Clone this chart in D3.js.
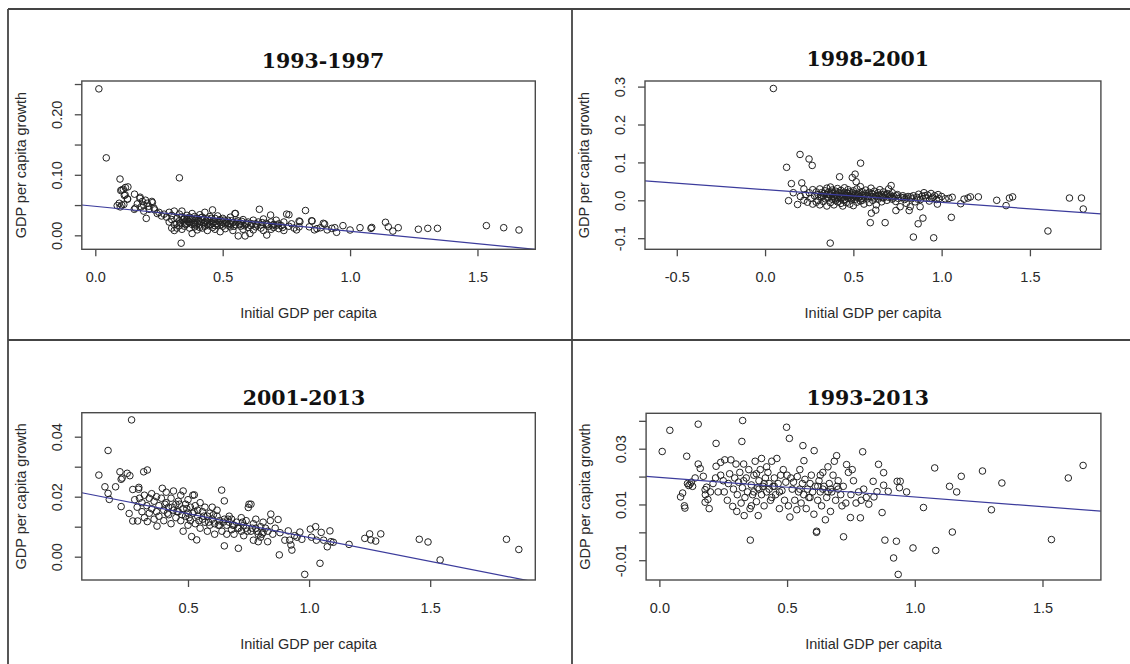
<!DOCTYPE html>
<html>
<head>
<meta charset="utf-8">
<script src="https://cdn.jsdelivr.net/npm/d3@7"></script>
<style>
  html, body { margin: 0; padding: 0; background: #fff; }
  svg { display: block; }
</style>
</head>
<body>
<svg id="chart" width="1130" height="664"></svg>
<script>
// ---------------- DATA ----------------
const titles = ["1993-1997", "1998-2001", "2001-2013", "1993-2013"];
const xAxisTitle = "Initial GDP per capita";
const yAxisTitle = "GDP per capita growth";

// [initial GDP per capita, GDP per capita growth]
const pts9397 = [
[0.014,0.242],[0.043,0.128],[0.097,0.093],[0.33,0.095],[0.337,-0.013],
[0.104,0.075],[0.118,0.079],[0.128,0.080],[0.114,0.066],[0.126,0.060],[0.110,0.076],[0.100,0.074],[0.117,0.067],[0.127,0.060],
[0.086,0.049],[0.094,0.053],[0.104,0.050],[0.098,0.047],[0.112,0.051],
[0.154,0.068],[0.175,0.061],[0.185,0.056],[0.197,0.058],[0.190,0.050],[0.204,0.053],[0.222,0.056],[0.157,0.045],[0.153,0.043],[0.200,0.028],[0.211,0.043],[0.233,0.042],[0.243,0.036],[0.224,0.054],[0.18,0.047],[0.165,0.052],[0.21,0.048],[0.23,0.045],[0.25,0.038],[0.26,0.032],[0.27,0.035],[0.19,0.040],[0.176,0.063],
[0.28,0.030],[0.29,0.022],[0.29,0.038],[0.30,0.012],[0.30,0.026],[0.30,0.033],[0.31,0.018],[0.31,0.008],[0.31,0.040],[0.32,0.028],[0.32,0.020],[0.32,0.012],[0.33,0.035],[0.33,0.024],[0.33,0.016],[0.34,0.030],[0.34,0.010],[0.34,0.040],[0.35,0.022],[0.35,0.028],[0.35,0.015],
[0.36,0.033],[0.36,0.019],[0.36,0.026],[0.37,0.012],[0.37,0.030],[0.37,0.022],[0.38,0.036],[0.38,0.003],[0.38,0.018],[0.38,0.027],[0.39,0.024],[0.39,0.031],[0.39,0.014],[0.40,0.020],[0.40,0.028],[0.40,0.009],[0.41,0.034],[0.41,0.023],[0.41,0.017],[0.42,0.026],[0.42,0.012],[0.42,0.030],[0.43,0.021],[0.43,0.038],[0.43,0.015],[0.44,0.027],[0.44,0.008],[0.44,0.022],[0.45,0.031],[0.45,0.018],[0.45,0.024],
[0.46,0.042],[0.46,0.013],[0.46,0.020],[0.47,0.028],[0.47,0.023],[0.47,0.010],[0.48,0.017],[0.48,0.032],[0.49,0.021],[0.49,0.026],[0.49,0.006],[0.50,0.015],[0.50,0.028],[0.50,0.022],[0.51,0.019],[0.51,0.011],[0.52,0.025],[0.52,0.017],[0.53,0.030],[0.53,0.014],[0.54,0.021],[0.54,0.008],[0.55,0.036],[0.55,0.018],[0.548,0.036],[0.56,0.024],[0.561,-0.001],
[0.57,0.015],[0.57,0.020],[0.58,0.010],[0.58,0.026],[0.588,-0.001],[0.59,0.018],[0.60,0.013],[0.60,0.022],[0.607,0.003],[0.61,0.016],[0.62,0.025],[0.62,0.009],[0.63,0.019],[0.63,0.014],[0.644,0.043],[0.64,0.022],[0.65,0.012],[0.65,0.017],[0.66,0.027],[0.66,0.008],[0.67,0.020],[0.673,0.0005],[0.68,0.015],[0.688,0.0335],[0.69,0.010],[0.69,0.022],[0.70,0.018],[0.70,0.013],
[0.71,0.025],[0.72,0.011],[0.72,0.019],[0.73,0.016],[0.74,0.022],[0.74,0.008],[0.751,0.035],[0.76,0.034],[0.76,0.015],[0.77,0.019],[0.78,0.012],[0.79,0.009],[0.80,0.0236],[0.803,0.0225],[0.80,0.014],
[0.335,0.021],[0.345,0.026],[0.355,0.018],[0.365,0.023],[0.375,0.027],[0.385,0.020],[0.395,0.017],[0.405,0.025],[0.415,0.029],[0.425,0.019],[0.435,0.024],[0.445,0.016],[0.455,0.028],[0.465,0.022],[0.475,0.019],[0.485,0.024],[0.495,0.018],[0.505,0.025],[0.515,0.021],[0.525,0.020],[0.535,0.024],[0.545,0.015],[0.555,0.022],[0.565,0.018],[0.575,0.023],[0.585,0.016],[0.595,0.020],[0.615,0.019],[0.635,0.017],[0.655,0.021],[0.675,0.018],[0.695,0.016],[0.715,0.017],[0.735,0.013],[0.41,0.013],[0.47,0.016],[0.53,0.019],[0.39,0.021],[0.44,0.019],[0.36,0.028],
[0.825,0.041],[0.84,0.014],[0.849,0.024],[0.851,0.0236],[0.86,0.009],[0.87,0.011],[0.884,0.0126],[0.895,0.0198],[0.90,0.0187],[0.91,0.009],[0.928,0.0115],[0.94,0.0126],[0.947,0.005],[0.972,0.016],[1.0,0.0088],[1.039,0.0126],[1.082,0.0115],[1.085,0.013],[1.139,0.0215],[1.15,0.014],[1.168,0.007],[1.189,0.0126],[1.268,0.010],[1.305,0.0115],[1.343,0.0115],[1.535,0.016],[1.603,0.0126],[1.663,0.0088]
];

const pts9801 = [
[0.047,0.295],[0.122,0.087],[0.198,0.121],[0.249,0.109],[0.267,0.092],[0.149,0.044],[0.208,0.046],[0.133,-0.001],[0.184,-0.011],[0.16,0.02],[0.2,0.01],[0.22,0.03],[0.22,0.0],[0.23,0.015],[0.24,-0.005],[0.369,-0.113],[0.422,0.062],
[0.25,0.02],[0.26,0.005],[0.27,-0.01],[0.27,0.028],[0.28,0.012],[0.29,-0.005],[0.29,0.022],[0.30,0.015],[0.30,0.0],[0.31,-0.012],[0.31,0.03],[0.32,0.008],[0.32,0.02],[0.33,-0.003],[0.33,0.012],[0.34,0.025],[0.34,0.004],[0.35,-0.015],[0.35,0.016],[0.35,0.032],
[0.36,0.008],[0.36,0.022],[0.37,-0.006],[0.37,0.014],[0.37,0.035],[0.38,0.003],[0.38,0.018],[0.38,0.027],[0.39,-0.012],[0.39,0.01],[0.4,0.024],[0.4,0.0],[0.4,0.015],[0.41,0.031],[0.41,-0.004],[0.41,0.007],[0.42,0.019],[0.42,0.012],[0.43,-0.008],[0.43,0.026],[0.43,0.004],[0.44,0.016],[0.44,0.009],[0.44,-0.015],[0.45,0.021],[0.45,0.002],[0.45,0.033],
[0.46,0.012],[0.46,-0.006],[0.47,0.018],[0.47,0.028],[0.47,0.005],[0.48,0.01],[0.48,-0.01],[0.48,0.022],[0.49,0.015],[0.49,0.001],[0.494,0.06],[0.5,0.025],[0.5,0.008],[0.5,-0.014],[0.51,0.069],[0.51,0.017],[0.51,0.003],[0.516,0.049],[0.52,0.012],[0.52,-0.005],[0.52,0.03],[0.53,0.019],[0.53,0.006],[0.54,0.036],[0.54,-0.002],[0.541,0.098],[0.55,0.014],[0.55,0.023],[0.55,0.0],
[0.56,0.009],[0.56,-0.01],[0.57,0.018],[0.57,0.027],[0.58,0.004],[0.58,0.013],[0.59,-0.006],[0.59,0.021],[0.596,-0.059],[0.6,0.01],[0.6,0.032],[0.602,-0.034],[0.61,0.0],[0.61,0.016],[0.62,0.024],[0.62,0.006],[0.627,-0.026],[0.63,0.012],[0.63,-0.012],[0.64,0.02],[0.64,0.003],[0.65,0.028],[0.65,0.009],
[0.66,0.015],[0.66,-0.004],[0.67,0.022],[0.67,0.006],[0.68,-0.059],[0.68,0.012],[0.69,0.018],[0.69,0.0],[0.7,0.03],[0.7,0.008],[0.71,0.014],[0.714,0.039],[0.72,0.003],[0.72,0.02],[0.73,0.01],[0.74,-0.003],[0.741,-0.027],[0.75,0.015],[0.755,0.005],[0.765,-0.017],[0.77,0.008],[0.78,0.012],[0.79,0.002],[0.8,0.006],[0.8,-0.008],
[0.315,0.01],[0.335,0.018],[0.355,0.006],[0.365,0.015],[0.375,0.022],[0.385,0.009],[0.395,0.004],[0.405,0.012],[0.415,0.02],[0.425,0.008],[0.435,0.014],[0.445,0.0],[0.455,0.011],[0.465,0.019],[0.475,0.013],[0.485,0.006],[0.495,0.02],[0.505,0.012],[0.515,0.009],[0.525,0.016],[0.535,0.01],[0.545,0.004],[0.565,0.014],[0.585,0.009],[0.605,0.018],[0.625,0.011],[0.645,0.014],[0.665,0.008],[0.685,0.015],[0.705,0.011],[0.725,0.006],[0.745,0.012],[0.785,0.007],[0.825,0.009],[0.865,0.003],[0.905,0.012],[0.945,0.005],[0.985,0.004],
[0.81,0.01],[0.816,-0.027],[0.822,-0.017],[0.83,0.004],[0.84,-0.097],[0.84,0.012],[0.85,-0.004],[0.86,0.008],[0.867,-0.062],[0.87,0.016],[0.878,-0.017],[0.88,0.002],[0.89,0.011],[0.894,-0.047],[0.9,0.02],[0.91,0.006],[0.92,0.014],[0.93,-0.002],[0.94,0.018],[0.95,0.008],[0.955,-0.099],[0.96,0.012],[0.97,0.002],[0.976,-0.01],[0.98,0.015],[1.0,0.01],[1.02,0.004],[1.041,0.005],[1.055,-0.045],[1.06,0.008],
[1.108,-0.009],[1.127,0.003],[1.149,0.006],[1.163,0.009],[1.208,0.009],[1.312,0.0],[1.365,-0.014],[1.384,0.006],[1.402,0.009],[1.602,-0.081],[1.724,0.006],[1.792,0.006],[1.802,-0.023]
];

const pts0113 = [
[0.132,0.0272],[0.170,0.0354],[0.267,0.0456],[0.170,0.0211],[0.175,0.0191],[0.157,0.0233],[0.201,0.0233],[0.219,0.0283],[0.224,0.0258],[0.228,0.0262],[0.249,0.0278],[0.260,0.027],[0.317,0.0283],[0.332,0.0289],[0.224,0.0167],[0.257,0.0144],[0.272,0.0119],[0.292,0.0119],[0.272,0.0224],[0.297,0.0231],[0.296,0.0225],[0.28,0.019],[0.29,0.0165],[0.31,0.018],[0.332,0.0117],[0.372,0.0102],
[0.30,0.0195],[0.31,0.015],[0.32,0.0205],[0.32,0.013],[0.33,0.017],[0.34,0.0195],[0.34,0.0145],[0.35,0.016],[0.35,0.021],[0.36,0.0125],[0.36,0.0185],[0.37,0.015],[0.37,0.02],[0.38,0.017],[0.38,0.0135],[0.39,0.0195],[0.394,0.0228],[0.40,0.0155],[0.40,0.012],[0.41,0.018],[0.41,0.0215],[0.42,0.014],[0.42,0.0165],[0.43,0.0195],[0.43,0.011],[0.44,0.0219],[0.44,0.0155],[0.45,0.0175],[0.45,0.013],[0.46,0.0185],[0.46,0.015],[0.47,0.0205],[0.47,0.012],[0.48,0.0219],[0.48,0.016],[0.48,0.0085],[0.49,0.0175],[0.49,0.0135],[0.50,0.019],[0.50,0.0145],[0.50,0.0105],
[0.51,0.0165],[0.51,0.012],[0.515,0.0067],[0.52,0.0205],[0.52,0.0145],[0.526,0.0206],[0.53,0.011],[0.53,0.017],[0.536,0.0056],[0.54,0.0135],[0.54,0.0155],[0.55,0.018],[0.55,0.0095],[0.56,0.0125],[0.56,0.015],[0.57,0.0115],[0.57,0.0165],[0.58,0.0135],[0.58,0.0085],[0.59,0.0145],[0.59,0.0105],[0.60,0.0125],[0.60,0.0165],[0.61,0.0075],[0.61,0.011],[0.62,0.0135],[0.62,0.0155],[0.63,0.0105],[0.63,0.012],[0.639,0.0222],[0.64,0.0085],[0.65,0.0186],[0.65,0.0036],[0.65,0.0125],[0.66,0.0105],[0.66,0.0075],[0.67,0.0135],[0.67,0.0115],[0.68,0.009],[0.68,0.0125],[0.69,0.0105],[0.69,0.0075],[0.70,0.0115],
[0.405,0.0175],[0.415,0.0145],[0.435,0.0165],[0.455,0.015],[0.465,0.0175],[0.475,0.014],[0.495,0.016],[0.505,0.013],[0.525,0.015],[0.545,0.012],[0.565,0.0135],[0.585,0.0115],[0.605,0.014],[0.625,0.0105],[0.645,0.0115],[0.665,0.0125],[0.685,0.0105],[0.705,0.0095],[0.725,0.0115],[0.745,0.0085],[0.765,0.0095],[0.785,0.0085],[0.805,0.0075],
[0.708,0.0028],[0.71,0.0095],[0.72,0.013],[0.72,0.0085],[0.73,0.0105],[0.73,0.007],[0.74,0.012],[0.74,0.0095],[0.749,0.0164],[0.752,0.0175],[0.76,0.0175],[0.76,0.0085],[0.77,0.011],[0.77,0.0055],[0.78,0.0095],[0.78,0.0125],[0.79,0.005],[0.79,0.0075],[0.80,0.01],[0.80,0.0065],[0.81,0.0115],[0.81,0.008],[0.82,0.0095],[0.829,0.005],[0.83,0.0085],[0.842,0.0142],[0.84,0.012],[0.85,0.0075],[0.86,0.0095],[0.872,0.0124],[0.877,0.0006],[0.88,0.008],
[0.90,0.0055],[0.914,0.0086],[0.92,0.0055],[0.925,0.0039],[0.929,0.0022],[0.94,0.007],[0.95,0.0065],[0.962,0.0082],[0.97,0.0058],[0.982,-0.0059],[1.005,0.0092],[1.01,0.0065],[1.027,0.010],[1.03,0.0055],[1.045,-0.0022],[1.05,0.0081],[1.06,0.0055],[1.075,0.0033],[1.086,0.0086],[1.09,0.005],[1.10,0.0048],
[1.165,0.0041],[1.23,0.0061],[1.25,0.0076],[1.255,0.0056],[1.275,0.0052],[1.296,0.0076],[1.455,0.0058],[1.491,0.0049],[1.541,-0.0011],[1.815,0.0058],[1.866,0.0024]
];

const pts9313 = [
[0.011,0.029],[0.041,0.0366],[0.152,0.0388],[0.326,0.0401],[0.323,0.0326],[0.222,0.0319],[0.107,0.0273],[0.152,0.0245],[0.498,0.0377],[0.509,0.0337],[0.562,0.0311],[0.606,0.0293],[0.566,0.0257],[0.694,0.0275],[0.733,0.0243],[0.796,0.0289],[0.858,0.0244],[0.878,0.0214],[0.878,0.0169],[0.852,0.0146],[0.837,0.0183],[0.84,0.0127],[0.872,0.0071],[0.82,0.0101],[0.787,0.0052],[0.748,0.0053],[0.721,-0.0016],[0.615,0.0],[0.356,-0.0028],[0.883,-0.0028],[0.928,-0.0032],[0.917,-0.0092],[0.935,-0.0151],[0.993,-0.0056],[1.082,-0.0065],[1.147,0.0001],[1.034,0.0089],[1.078,0.0231],[1.136,0.0165],[1.164,0.0145],[1.182,0.0201],[1.265,0.022],[1.3,0.0081],[1.341,0.0177],[1.535,-0.0026],[1.601,0.0195],[1.659,0.024],[0.931,0.0183],[0.943,0.0183],[0.94,0.016],[0.968,0.0145],[0.896,0.0147],
[0.083,0.0127],[0.091,0.0141],[0.1,0.0087],[0.098,0.0095],[0.11,0.0175],[0.115,0.0168],[0.12,0.0173],[0.125,0.0180],[0.13,0.0165],[0.14,0.0195],[0.172,0.0201],[0.179,0.0153],[0.18,0.0135],[0.185,0.0162],[0.19,0.0118],[0.179,0.0108],[0.195,0.0085],[0.2,0.0145],[0.21,0.0175],[0.222,0.0237],[0.23,0.0145],[0.24,0.0251],[0.254,0.0145],[0.256,0.026],[0.22,0.0195],[0.25,0.0185],[0.16,0.0229],[0.24,0.0205],
[0.266,0.0115],[0.27,0.0175],[0.275,0.021],[0.28,0.026],[0.287,0.0093],[0.29,0.0155],[0.295,0.0195],[0.3,0.0245],[0.303,0.0075],[0.305,0.0135],[0.31,0.018],[0.315,0.0215],[0.32,0.0105],[0.325,0.016],[0.33,0.0245],[0.332,0.006],[0.335,0.0125],[0.34,0.0195],[0.345,0.0145],[0.35,0.0225],[0.355,0.0085],[0.36,0.017],[0.365,0.0135],[0.37,0.0205],[0.375,0.0255],[0.38,0.011],[0.385,0.016],[0.387,0.006],[0.39,0.0185],[0.395,0.0225],[0.4,0.0135],[0.4,0.0265],[0.405,0.0165],[0.41,0.0095],[0.415,0.0195],[0.42,0.0145],[0.425,0.0215],[0.43,0.0175],[0.435,0.0115],[0.44,0.0255],[0.445,0.0165],[0.45,0.0195],[0.455,0.0135],[0.46,0.0265],[0.465,0.0175],[0.47,0.0085],[0.475,0.0205],[0.48,0.015],[0.485,0.0225],[0.49,0.0115],[0.495,0.018],[0.38,0.021],[0.42,0.0235],[0.36,0.0095],[0.44,0.0125],[0.33,0.0185],
[0.39,0.0155],[0.41,0.0175],[0.43,0.0155],[0.45,0.0165],[0.37,0.0145],[0.47,0.0145],[0.62,0.0165],[0.64,0.0155],[0.66,0.0145],[0.7,0.0155],
[0.5,0.0205],[0.505,0.0095],[0.511,0.0055],[0.515,0.0195],[0.52,0.0155],[0.525,0.018],[0.53,0.0115],[0.538,0.0081],[0.54,0.02],[0.545,0.0145],[0.55,0.0225],[0.555,0.0105],[0.56,0.0175],[0.565,0.0135],[0.57,0.019],[0.575,0.0085],[0.58,0.0155],[0.585,0.0125],[0.59,0.0175],[0.595,0.0205],[0.6,0.0145],[0.605,0.0065],[0.61,0.0165],[0.616,0.0004],[0.62,0.0115],[0.625,0.0185],[0.63,0.0145],[0.635,0.0095],[0.64,0.0215],[0.645,0.0165],[0.65,0.0045],[0.655,0.0125],[0.66,0.0235],[0.665,0.0175],[0.67,0.0075],[0.675,0.0145],[0.68,0.0205],[0.685,0.0255],[0.69,0.0115],[0.695,0.0165],[0.7,0.0185],[0.71,0.0135],[0.715,0.0095],[0.72,0.0165],[0.73,0.0105],[0.74,0.0215],[0.75,0.0135],[0.755,0.0225],[0.76,0.0185],[0.77,0.0105],[0.78,0.0145],[0.79,0.0115],[0.8,0.0155],[0.81,0.0125],[0.63,0.0205],[0.59,0.0125],[0.55,0.0155],[0.67,0.0155]
];

// fitted regression lines: [intercept, slope]
const fit9397 = [0.0479, -0.0412];
const fit9801 = [0.0281, -0.0337];
const fit0113 = [0.0223, -0.0159];
const fit9313 = [0.0197, -0.0070];

// axis ranges (R's extended ranges) and ticks
const xDom9397 = [-0.053, 1.727], yDom9397 = [-0.0231, 0.255];
const xDom9801 = [-0.680, 1.902], yDom9801 = [-0.1293, 0.3148];
const xDom0113 = [0.0615, 1.934], yDom0113 = [-0.00777, 0.048];
const xDom9313 = [-0.052, 1.7287], yDom9313 = [-0.0171, 0.0427];

const xTicks9397 = [0, 0.5, 1.0, 1.5], xLabels9397 = ["0.0","0.5","1.0","1.5"];
const yTicks9397 = [0, 0.05, 0.10, 0.15, 0.20, 0.25], yLabels9397 = ["0.00","","0.10","","0.20",""];
const xTicks9801 = [-0.5, 0, 0.5, 1.0, 1.5], xLabels9801 = ["-0.5","0.0","0.5","1.0","1.5"];
const yTicks9801 = [-0.1, 0, 0.1, 0.2, 0.3], yLabels9801 = ["-0.1","0.0","0.1","0.2","0.3"];
const xTicks0113 = [0.5, 1.0, 1.5], xLabels0113 = ["0.5","1.0","1.5"];
const yTicks0113 = [0, 0.01, 0.02, 0.03, 0.04], yLabels0113 = ["0.00","","0.02","","0.04"];
const xTicks9313 = [0, 0.5, 1.0, 1.5], xLabels9313 = ["0.0","0.5","1.0","1.5"];
const yTicks9313 = [-0.01, 0, 0.01, 0.02, 0.03, 0.04], yLabels9313 = ["-0.01","","0.01","","0.03",""];

// ---------------- LAYOUT ----------------
const panels = [
  { title: titles[0], pts: pts9397, fit: fit9397, xDom: xDom9397, yDom: yDom9397, xT: xTicks9397, xL: xLabels9397, yT: yTicks9397, yL: yLabels9397,
    box: {l: 81.8, r: 535.3, t: 81, b: 249.3}, tpos: [323, 60.5] },
  { title: titles[1], pts: pts9801, fit: fit9801, xDom: xDom9801, yDom: yDom9801, xT: xTicks9801, xL: xLabels9801, yT: yTicks9801, yL: yLabels9801,
    box: {l: 645, r: 1100.9, t: 81, b: 249.3}, tpos: [867.7, 58.5] },
  { title: titles[2], pts: pts0113, fit: fit0113, xDom: xDom0113, yDom: yDom0113, xT: xTicks0113, xL: xLabels0113, yT: yTicks0113, yL: yLabels0113,
    box: {l: 81.8, r: 535.3, t: 412.7, b: 580}, tpos: [304, 398] },
  { title: titles[3], pts: pts9313, fit: fit9313, xDom: xDom9313, yDom: yDom9313, xT: xTicks9313, xL: xLabels9313, yT: yTicks9313, yL: yLabels9313,
    box: {l: 646.1, r: 1100.9, t: 413.3, b: 580}, tpos: [867.7, 398] }
];

const svg = d3.select("#chart");
const sansFont = "'Liberation Sans', Arial, sans-serif";
const textCol = "#2a2a2a";
const axisCol = "#4a4a4a";

// outer frame / dividers
const frame = svg.append("g").attr("stroke", "#444").attr("stroke-width", 1.8);
frame.append("line").attr("x1", 8).attr("x2", 1130).attr("y1", 9).attr("y2", 9);
frame.append("line").attr("x1", 8).attr("x2", 8).attr("y1", 9).attr("y2", 664);
frame.append("line").attr("x1", 572).attr("x2", 572).attr("y1", 9).attr("y2", 664);
frame.append("line").attr("x1", 8).attr("x2", 1130).attr("y1", 340).attr("y2", 340);

panels.forEach((p, i) => {
  const b = p.box;
  const x = d3.scaleLinear().domain(p.xDom).range([b.l, b.r]);
  const y = d3.scaleLinear().domain(p.yDom).range([b.b, b.t]);
  const g = svg.append("g");

  const cid = "clip" + i;
  svg.append("clipPath").attr("id", cid).append("rect")
    .attr("x", b.l).attr("y", b.t).attr("width", b.r - b.l).attr("height", b.b - b.t);

  // points
  g.append("g").selectAll("circle").data(p.pts).join("circle")
    .attr("cx", d => x(d[0])).attr("cy", d => y(d[1])).attr("r", 3.3)
    .attr("fill", "none").attr("stroke", "#222").attr("stroke-width", 1.0);

  // regression line
  const lineData = p.xDom.map(v => [v, p.fit[0] + p.fit[1] * v]);
  g.append("path").attr("clip-path", `url(#${cid})`)
    .attr("d", d3.line().x(d => x(d[0])).y(d => y(d[1]))(lineData))
    .attr("fill", "none").attr("stroke", "#3c3c9c").attr("stroke-width", 1.2);

  // box
  g.append("rect").attr("x", b.l).attr("y", b.t).attr("width", b.r - b.l).attr("height", b.b - b.t)
    .attr("fill", "none").attr("stroke", axisCol).attr("stroke-width", 1.4);

  // x axis
  const xa = g.append("g").attr("transform", `translate(0,${b.b})`)
    .call(d3.axisBottom(x).tickValues(p.xT).tickSize(7).tickSizeOuter(0)
      .tickFormat((d, k) => p.xL[k]));
  xa.select(".domain").remove();
  xa.selectAll("line").attr("stroke", axisCol).attr("stroke-width", 1.3);
  xa.selectAll("text").attr("y", 0).attr("dy", 0).attr("transform", "translate(0,33)")
    .attr("font-family", sansFont).attr("font-size", 14.5).attr("fill", textCol);

  // y axis
  const ya = g.append("g").attr("transform", `translate(${b.l},0)`)
    .call(d3.axisLeft(y).tickValues(p.yT).tickSize(7).tickSizeOuter(0)
      .tickFormat((d, k) => p.yL[k]));
  ya.select(".domain").remove();
  ya.selectAll("line").attr("stroke", axisCol).attr("stroke-width", 1.3);
  ya.selectAll("text").attr("x", 0).attr("dy", "0.36em").attr("text-anchor", "middle")
    .attr("transform", "translate(-25.5,0) rotate(-90)")
    .attr("font-family", sansFont).attr("font-size", 14.5).attr("fill", textCol);

  // axis titles
  g.append("text").attr("x", (b.l + b.r) / 2).attr("y", b.b + 63.5).attr("dy", "0.36em")
    .attr("text-anchor", "middle").attr("font-family", sansFont).attr("font-size", 14.5)
    .attr("fill", textCol).text(xAxisTitle);
  g.append("text")
    .attr("transform", `translate(${b.l - 61},${(b.t + b.b) / 2}) rotate(-90)`)
    .attr("dy", "0.36em").attr("text-anchor", "middle").attr("font-family", sansFont)
    .attr("font-size", 14.5).attr("fill", textCol).text(yAxisTitle);

  // panel title
  g.append("text").attr("x", p.tpos[0]).attr("y", p.tpos[1]).attr("dy", "0.36em")
    .attr("text-anchor", "middle").attr("font-family", "'DejaVu Serif', serif")
    .attr("font-weight", "bold").attr("font-size", 20.5).attr("fill", "#111").text(p.title);
});
</script>
</body>
</html>
